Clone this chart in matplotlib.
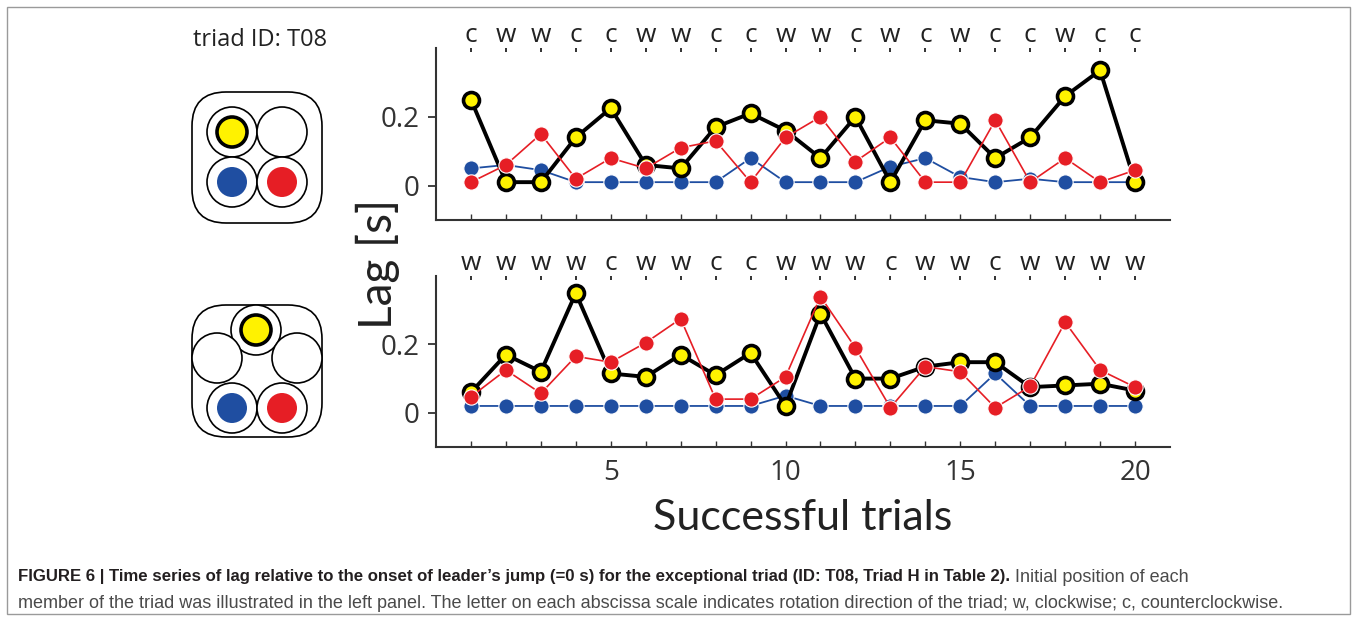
import numpy as np
import matplotlib.pyplot as plt
from matplotlib.patches import Circle, FancyBboxPatch, Rectangle

W, H = 1357, 621
YELLOW = '#fff200'
RED = '#e61e25'
BLUE = '#1f4ea1'

trials = np.arange(1, 21)

# upper panel (2x2 start layout)
top_letters = ['c', 'w', 'w', 'c', 'c', 'w', 'w', 'c', 'c', 'w',
               'w', 'c', 'w', 'c', 'w', 'c', 'c', 'w', 'c', 'c']
top_yellow = [0.25, 0.01, 0.01, 0.14, 0.225, 0.06, 0.05, 0.17, 0.21, 0.16,
              0.08, 0.20, 0.01, 0.19, 0.18, 0.08, 0.14, 0.26, 0.335, 0.01]
top_red = [0.01, 0.06, 0.15, 0.02, 0.08, 0.05, 0.11, 0.13, 0.01, 0.14,
           0.20, 0.07, 0.14, 0.01, 0.01, 0.19, 0.01, 0.08, 0.01, 0.045]
top_blue = [0.05, 0.06, 0.045, 0.01, 0.01, 0.01, 0.01, 0.01, 0.08, 0.01,
            0.01, 0.01, 0.055, 0.08, 0.025, 0.01, 0.02, 0.01, 0.01, 0.01]

# lower panel (5-spot start layout)
bot_letters = ['w', 'w', 'w', 'w', 'c', 'w', 'w', 'c', 'c', 'w',
               'w', 'w', 'c', 'w', 'w', 'c', 'w', 'w', 'w', 'w']
bot_yellow = [0.06, 0.17, 0.12, 0.35, 0.115, 0.105, 0.17, 0.11, 0.175, 0.02,
              0.29, 0.10, 0.10, 0.135, 0.148, 0.148, 0.075, 0.08, 0.085, 0.065]
bot_red = [0.047, 0.125, 0.057, 0.165, 0.148, 0.205, 0.275, 0.04, 0.04, 0.105,
           0.34, 0.19, 0.015, 0.135, 0.12, 0.015, 0.077, 0.265, 0.125, 0.075]
bot_blue = [0.02, 0.02, 0.02, 0.02, 0.02, 0.02, 0.02, 0.02, 0.02, 0.05,
            0.02, 0.02, 0.02, 0.02, 0.02, 0.115, 0.02, 0.02, 0.02, 0.02]

y_ticks = [0, 0.2]
y_ticklabels = ['0', '0.2']

LABEL_FONT = ['Lato', 'DejaVu Sans']
CAP_FONT = ['Liberation Sans', 'DejaVu Sans']
plt.rcParams['font.family'] = ['Open Sans', 'DejaVu Sans']

fig = plt.figure(figsize=(W / 100, H / 100), dpi=100)

# background layer in pixel coords for the frame and the start-position sketches
bg = fig.add_axes([0, 0, 1, 1], zorder=-1)
bg.set_xlim(0, W)
bg.set_ylim(H, 0)
bg.axis('off')
bg.add_patch(Rectangle((7, 7), W - 14, H - 14, fill=False, ec='#9a9a9a', lw=1))


def spot(cx, cy, fill=None, leader=False):
    bg.add_patch(Circle((cx, cy), 25, fc='white', ec='black', lw=1.2, zorder=2))
    if fill is None:
        return
    if leader:
        bg.add_patch(Circle((cx, cy), 15, fc=fill, ec='black', lw=2.6, zorder=3))
    else:
        bg.add_patch(Circle((cx, cy), 15, fc=fill, ec='none', zorder=3))


bg.add_patch(FancyBboxPatch((192, 92), 130, 131, boxstyle='round,pad=0,rounding_size=34',
                            fc='white', ec='black', lw=1.2))
spot(232, 132, YELLOW, leader=True)
spot(282, 132)
spot(232, 182, BLUE)
spot(282, 182, RED)

bg.add_patch(FancyBboxPatch((192, 305), 130, 132, boxstyle='round,pad=0,rounding_size=34',
                            fc='white', ec='black', lw=1.2))
spot(256, 330, YELLOW, leader=True)
spot(217, 358)
spot(297, 358)
spot(232, 408, BLUE)
spot(282, 408, RED)

bg.text(193, 40, 'triad ID: T08', fontsize=17, va='center', ha='left', color='#222')


def draw_panel(ax, letters, yellow, red, blue, bottom_labels):
    ax.plot(trials, blue, '-o', color=BLUE, lw=1.3, ms=11, mfc=BLUE, mec='white', mew=0.8, zorder=2)
    ax.plot(trials, yellow, '-o', color='black', lw=2.8, ms=11.5, mfc=YELLOW, mec='black', mew=2.6, zorder=3)
    ax.plot(trials, red, '-o', color=RED, lw=1.2, ms=11, mfc=RED, mec='white', mew=0.8, zorder=4)
    ax.set_xlim(0, 21)
    ax.set_ylim(-0.1, 0.4)
    for s in ['top', 'right']:
        ax.spines[s].set_visible(False)
    for s in ['left', 'bottom']:
        ax.spines[s].set_linewidth(1.5)
        ax.spines[s].set_color('#333')
    ax.set_yticks(y_ticks, y_ticklabels)
    ax.tick_params(axis='y', direction='out', length=6, width=1.3, labelsize=20, pad=6, colors='#333')
    ax.set_xticks(trials)
    if bottom_labels:
        ax.set_xticklabels([str(t) if t % 5 == 0 else '' for t in trials])
    else:
        ax.set_xticklabels([])
    ax.tick_params(axis='x', direction='in', length=4, width=1.0, labelsize=20, pad=9, colors='#333')
    sec = ax.secondary_xaxis('top')
    sec.set_xticks(trials, letters)
    sec.spines['top'].set_visible(False)
    sec.tick_params(direction='in', length=3, width=1.3, labelsize=19, pad=0, colors='#222')


ax_top = fig.add_axes([436 / W, 1 - 220 / H, 734 / W, 172 / H])
draw_panel(ax_top, top_letters, top_yellow, top_red, top_blue, False)

ax_bot = fig.add_axes([436 / W, 1 - 447 / H, 734 / W, 171 / H])
draw_panel(ax_bot, bot_letters, bot_yellow, bot_red, bot_blue, True)

ax_bot.set_xlabel('Successful trials', fontsize=31, family=LABEL_FONT, labelpad=8, color='#222')
fig.text(378 / W, 1 - 264 / H, 'Lag [s]', rotation=90, fontsize=33, family=LABEL_FONT,
         ha='center', va='center', color='#222')

# caption: bold lead-in then regular text on the same line, sized to the reference width
cap_y1 = 1 - 577 / H
cap_y2 = 1 - 603 / H
t1 = fig.text(18 / W, cap_y1, "FIGURE 6 | Time series of lag relative to the onset of leader\u2019s jump (=0 s) "
              "for the exceptional triad (ID: T08, Triad H in Table 2).",
              fontsize=12, fontweight='bold', family=CAP_FONT, va='center', color='#231f20')
t3 = fig.text(18 / W, cap_y2, 'member of the triad was illustrated in the left panel. The letter on each abscissa '
              'scale indicates rotation direction of the triad; w, clockwise; c, counterclockwise.',
              fontsize=12, family=CAP_FONT, va='center', color='#4a4a4a')
fig.canvas.draw()
r = fig.canvas.get_renderer()
bold_size = 12 * (1005 - 18) / t1.get_window_extent(r).width
reg_size = 12 * (1288 - 18) / t3.get_window_extent(r).width
t1.set_fontsize(bold_size)
t3.set_fontsize(reg_size)
fig.canvas.draw()
bb = t1.get_window_extent(r)
fig.text(bb.x1 / W + 5 / W, cap_y1, 'Initial position of each', fontsize=reg_size, family=CAP_FONT,
         va='center', color='#4a4a4a')

fig.savefig('out.png', dpi=100)
